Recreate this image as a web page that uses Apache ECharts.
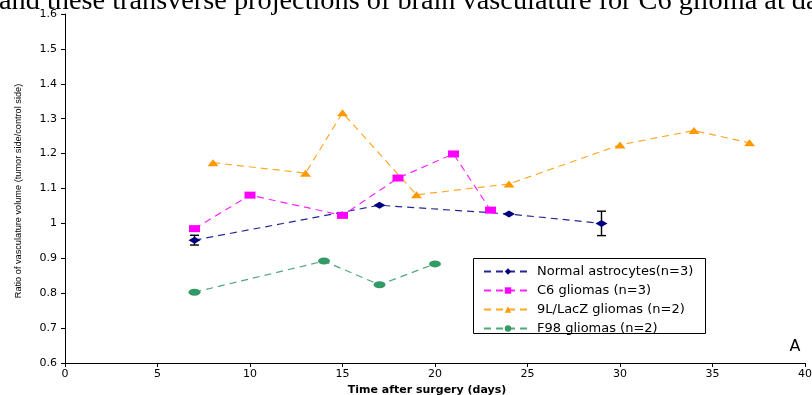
<!DOCTYPE html>
<html>
<head>
<meta charset="utf-8">
<script src="https://cdn.jsdelivr.net/npm/echarts@6/dist/echarts.min.js"></script>
<style>
html,body{margin:0;padding:0;background:#fff;}
#c{width:812px;height:395px;}
</style>
</head>
<body>
<div id="c"></div>
<script>
var seriesNames = ['Normal astrocytes(n=3)', 'C6 gliomas (n=3)', '9L/LacZ gliomas (n=2)', 'F98 gliomas (n=2)'];

var normalDays = [7, 17, 24, 29];
var normalValues = [0.952, 1.052, 1.027, 1.0];
var normalErrors = [0.014, 0, 0, 0.035];

var c6Days = [7, 10, 15, 18, 21, 23];
var c6Values = [0.985, 1.081, 1.023, 1.130, 1.199, 1.038];

var l9Days = [8, 13, 15, 19, 24, 30, 34, 37];
var l9Values = [1.174, 1.144, 1.317, 1.082, 1.113, 1.225, 1.266, 1.231];

var f98Days = [7, 14, 17, 20];
var f98Values = [0.803, 0.892, 0.824, 0.884];

var xTicks = [0, 5, 10, 15, 20, 25, 30, 35, 40];
var yTicks = [0.6, 0.7, 0.8, 0.9, 1, 1.1, 1.2, 1.3, 1.4, 1.5, 1.6];

function pairs(xs, ys) { return xs.map(function (x, i) { return [x, ys[i]]; }); }

var errData = [];
normalDays.forEach(function (d, i) {
  if (normalErrors[i] > 0) errData.push([d, normalValues[i] - normalErrors[i], normalValues[i] + normalErrors[i]]);
});

var colors = ['#000080', '#FF00FF', '#FF9900', '#339966'];
var symbols = ['diamond', 'rect', 'triangle', 'circle'];
var datasets = [pairs(normalDays, normalValues), pairs(c6Days, c6Values), pairs(l9Days, l9Values), pairs(f98Days, f98Values)];
var symSizes = [[12, 7], [11, 7], [11, 7], [12, 7]];

var series = [];
series.push({
  type: 'custom',
  name: 'err',
  data: errData,
  z: 1,
  renderItem: function (params, api) {
    var x = api.value(0);
    var lo = api.coord([x, api.value(1)]);
    var hi = api.coord([x, api.value(2)]);
    var hw = 4.5;
    var st = { stroke: '#000', lineWidth: 1.4 };
    return {
      type: 'group',
      children: [
        { type: 'line', shape: { x1: lo[0], y1: lo[1], x2: hi[0], y2: hi[1] }, style: st },
        { type: 'line', shape: { x1: lo[0] - hw, y1: lo[1], x2: lo[0] + hw, y2: lo[1] }, style: st },
        { type: 'line', shape: { x1: hi[0] - hw, y1: hi[1], x2: hi[0] + hw, y2: hi[1] }, style: st }
      ]
    };
  }
});
for (var i = 0; i < 4; i++) {
  series.push({
    type: 'line',
    name: seriesNames[i],
    data: datasets[i],
    symbol: symbols[i],
    symbolSize: symSizes[i],
    showAllSymbol: true,
    z: 3,
    itemStyle: { color: colors[i], borderWidth: 0 },
    lineStyle: { color: colors[i], width: 1.2, type: [7, 5], opacity: 0.85 },
    emphasis: { disabled: true },
    animation: false
  });
}

var chart = echarts.init(document.getElementById('c'), null, { renderer: 'canvas' });
chart.setOption({
  animation: false,
  backgroundColor: '#fff',
  grid: { left: 65, right: 7, top: 14, bottom: 32, containLabel: false, outerBoundsMode: 'none' },
  legend: {
    data: seriesNames,
    orient: 'vertical',
    left: 473,
    top: 259,
    padding: [6, 10, 6, 10],
    itemWidth: 48,
    itemHeight: 8,
    itemGap: 6,
    textStyle: { fontFamily: 'DejaVu Sans', fontSize: 13, color: '#000', lineHeight: 12 },
    selectedMode: false
  },
  xAxis: {
    type: 'value',
    min: 0, max: 40, interval: 5,
    name: 'Time after surgery (days)',
    nameLocation: 'middle',
    nameGap: 21,
    nameTextStyle: { fontFamily: 'DejaVu Sans', fontSize: 11, fontWeight: 'bold', color: '#000', padding: [0, 16, 0, 0] },
    axisLine: { lineStyle: { color: '#000', width: 1 } },
    axisTick: { show: true, length: 4, inside: false, lineStyle: { color: '#000' } },
    axisLabel: { fontFamily: 'DejaVu Sans', fontSize: 11, color: '#000', margin: 6,
      formatter: function (v) { return xTicks.indexOf(v) >= 0 ? String(v) : ''; } },
    splitLine: { show: false }
  },
  yAxis: {
    type: 'value',
    min: 0.6, max: 1.6, interval: 0.1,
    axisLine: { show: true, lineStyle: { color: '#000', width: 1 } },
    axisTick: { show: true, length: 4, inside: false, lineStyle: { color: '#000' } },
    axisLabel: { fontFamily: 'DejaVu Sans', fontSize: 11, color: '#000', margin: 8,
      formatter: function (v) {
        var r = Math.round(v * 10) / 10;
        return yTicks.indexOf(r) >= 0 ? String(r) : '';
      } },
    splitLine: { show: false }
  },
  graphic: [
    { type: 'text', left: -1, top: -12, z: 10, style: { text: 'and these transverse projections of brain vasculature for C6 glioma at day', fontFamily: 'Liberation Serif', fontSize: 28.3, fill: '#000' } },
    { type: 'text', x: 18, y: 191, rotation: Math.PI / 2, z: 10, style: { text: 'Ratio of vasculature volume (tumor side/control side)', fontFamily: 'Liberation Sans', fontSize: 9.2, fill: '#000', align: 'center', verticalAlign: 'middle' } },
    { type: 'text', x: 795, y: 347, z: 10, style: { text: 'A', fontFamily: 'DejaVu Sans', fontSize: 16, fill: '#000', align: 'center', verticalAlign: 'middle' } },
    { type: 'rect', shape: { x: 473.5, y: 258.5, width: 232, height: 75 }, z: 0, style: { fill: '#fff', stroke: '#000', lineWidth: 1 } }
  ],
  series: series
});
</script>
</body>
</html>
